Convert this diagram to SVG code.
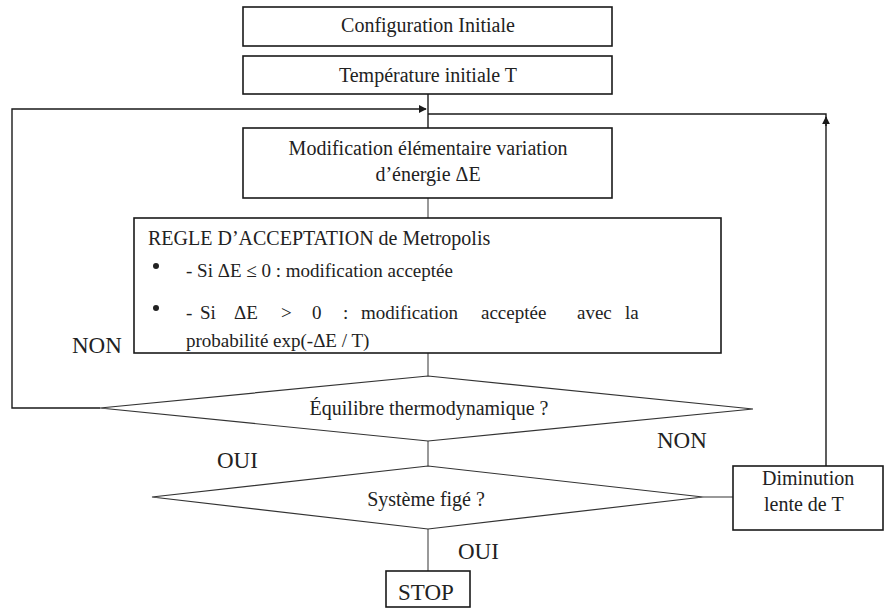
<svg xmlns="http://www.w3.org/2000/svg" width="884" height="609" viewBox="0 0 884 609">
<style>
  .box { fill: #fff; stroke: #1a1a1a; stroke-width: 1.6; }
  .dia { fill: #fff; stroke: #333; stroke-width: 1.2; }
  .ln { fill: none; stroke: #1a1a1a; stroke-width: 1.4; }
  .lg { fill: none; stroke: #555; stroke-width: 1.2; }
  .t { font-family: "Liberation Serif", "Times New Roman", serif; fill: #222; font-size: 20px; }
  .c { text-anchor: middle; }
  .b { font-size: 19px; }
  .lbl { font-size: 23px; }
</style>
<defs>
  <marker id="ah" viewBox="0 0 10 10" refX="9" refY="5" markerWidth="8" markerHeight="8" markerUnits="userSpaceOnUse" orient="auto">
    <path d="M0,0 L10,5 L0,10 z" fill="#1a1a1a"/>
  </marker>
</defs>
<rect width="884" height="609" fill="#fff"/>

<g id="connectors">
  <line class="ln" x1="428" y1="94" x2="428" y2="128"/>
  <polyline class="ln" points="100,408 12,408 12,109 426,109" marker-end="url(#ah)"/>
  <polyline class="ln" points="428,114 826,114 826,466"/>
  <line class="ln" x1="826" y1="126" x2="826" y2="117" marker-end="url(#ah)"/>
  <line class="lg" x1="428" y1="198" x2="428" y2="218"/>
  <line class="lg" x1="428" y1="353" x2="428" y2="376"/>
  <line class="lg" x1="428" y1="441" x2="428" y2="466"/>
  <line class="lg" x1="703" y1="497" x2="733" y2="497"/>
  <line class="lg" x1="428" y1="529" x2="428" y2="571"/>
  <text class="t lbl" x="72" y="353">NON</text>
  <text class="t lbl" x="217" y="468">OUI</text>
  <text class="t lbl" x="657" y="448">NON</text>
  <text class="t lbl" x="458" y="559">OUI</text>
</g>

<g id="config">
  <rect class="box" x="243" y="7" width="369" height="39"/>
  <text class="t c" x="428" y="32">Configuration Initiale</text>
</g>

<g id="temperature">
  <rect class="box" x="243" y="56" width="369" height="38"/>
  <text class="t c" x="428" y="82">Température initiale T</text>
</g>

<g id="modification">
  <rect class="box" x="243" y="128" width="369" height="70"/>
  <text class="t c" x="428" y="155">Modification élémentaire variation</text>
  <text class="t c" x="428" y="181">d’énergie ΔE</text>
</g>

<g id="metropolis">
  <rect class="box" x="134" y="218" width="587" height="135"/>
  <text class="t" x="148" y="245">REGLE D’ACCEPTATION de Metropolis</text>
  <circle cx="156" cy="266" r="3" fill="#222"/>
  <circle cx="156" cy="308" r="3" fill="#222"/>
  <text class="t b" x="186" y="277">- Si ΔE ≤ 0 : modification acceptée</text>
  <text class="t b" y="319"><tspan x="186">-</tspan><tspan x="200">Si</tspan><tspan x="234">ΔE</tspan><tspan x="281">&gt;</tspan><tspan x="312">0</tspan><tspan x="343">:</tspan><tspan x="361">modification</tspan><tspan x="481">acceptée</tspan><tspan x="577">avec</tspan><tspan x="625">la</tspan></text>
  <text class="t b" x="186" y="347">probabilité exp(-ΔE / T)</text>
</g>

<g id="equilibre">
  <polygon class="dia" points="100,408 428,376 753,409 428,441"/>
  <text class="t c" x="429" y="415">Équilibre thermodynamique ?</text>
</g>

<g id="fige">
  <polygon class="dia" points="152,497 428,466 703,497 428,529"/>
  <text class="t c" x="426" y="506">Système figé ?</text>
</g>

<g id="diminution">
  <rect class="box" x="733" y="466" width="150" height="64"/>
  <text class="t" x="762" y="485">Diminution</text>
  <text class="t" x="764" y="511">lente de T</text>
</g>

<g id="stop">
  <rect class="box" x="386" y="571" width="84" height="36"/>
  <text class="t lbl" x="398" y="600">STOP</text>
</g>
</svg>
